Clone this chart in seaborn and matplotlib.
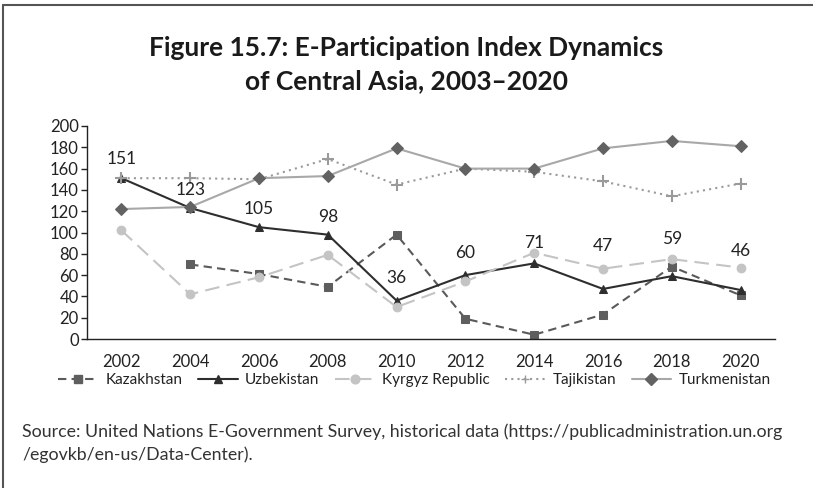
import pandas as pd
import seaborn as sns
import matplotlib.pyplot as plt
from matplotlib.lines import Line2D

# E-Participation rank
years = [2002, 2004, 2006, 2008, 2010, 2012, 2014, 2016, 2018, 2020]
kazakhstan = [None, 70, 61, 49, 98, 19, 4, 23, 68, 41]
uzbekistan = [151, 123, 105, 98, 36, 60, 71, 47, 59, 46]
kyrgyz = [102, 42, 58, 79, 30, 54, 81, 66, 75, 67]
tajikistan = [151, 151, 150, 169, 145, 160, 157, 148, 134, 146]
turkmenistan = [122, 124, 151, 153, 179, 160, 160, 179, 186, 181]

countries = ["Kazakhstan", "Uzbekistan", "Kyrgyz Republic", "Tajikistan", "Turkmenistan"]
series = [kazakhstan, uzbekistan, kyrgyz, tajikistan, turkmenistan]

# build long-form table, skip missing years
rows = []
for name, vals in zip(countries, series):
    for yr, v in zip(years, vals):
        if v is not None:
            rows.append({"year": yr, "rank": v, "country": name})
df = pd.DataFrame(rows)

sns.set_theme(style="white")
plt.rcParams["font.family"] = ["Lato", "DejaVu Sans"]

line_colors = {"Kazakhstan": "#5a5a5a", "Uzbekistan": "#2e2e2e", "Kyrgyz Republic": "#c4c4c4",
               "Tajikistan": "#9a9a9a", "Turkmenistan": "#a8a8a8"}
marker_colors = {"Kazakhstan": "#5e5e5e", "Uzbekistan": "#2e2e2e", "Kyrgyz Republic": "#c4c4c4",
                 "Tajikistan": "#9a9a9a", "Turkmenistan": "#626262"}
markers = {"Kazakhstan": "s", "Uzbekistan": "^", "Kyrgyz Republic": "o",
           "Tajikistan": "P", "Turkmenistan": "D"}
dashes = {"Kazakhstan": (4, 2.5), "Uzbekistan": "", "Kyrgyz Republic": (7, 3.5),
          "Tajikistan": (1, 2), "Turkmenistan": ""}

fig = plt.figure(figsize=(8.13, 4.88), dpi=100)
ax = fig.add_axes([87 / 813, 149 / 488, 688 / 813, 213 / 488])

sns.lineplot(data=df, x="year", y="rank", hue="country", style="country",
             hue_order=countries, style_order=countries,
             palette=line_colors, markers=markers, dashes=dashes,
             errorbar=None, linewidth=1.5, markersize=6.3, ax=ax, legend=False)

# marker tweaks per country
for line, name in zip(ax.lines, countries):
    line.set_markerfacecolor(marker_colors[name])
    line.set_markeredgecolor(marker_colors[name])
    if name == "Tajikistan":
        line.set_marker("+")
        line.set_markersize(8.5)
        line.set_markeredgewidth(1.5)

# labels on Uzbekistan
offsets = [14, 13, 13, 13, 16, 16, 15, 31, 27, 28]
for yr, v, off in zip(years, uzbekistan, offsets):
    ax.annotate(str(v), (yr, v), xytext=(0, off), textcoords="offset points",
                ha="center", va="center", fontsize=12.5, color="#222222")

ax.set_xlim(2001, 2021)
ax.set_ylim(0, 200)
ax.set_xticks(years)
ax.set_yticks(range(0, 201, 20))
ax.set_xlabel("")
ax.set_ylabel("")
sns.despine(ax=ax)
for s in ["left", "bottom"]:
    ax.spines[s].set_color("#222222")
    ax.spines[s].set_linewidth(1.0)
ax.tick_params(axis="y", left=True, length=4, width=1, color="#222222", labelsize=12,
               labelcolor="#222222", pad=2)
ax.tick_params(axis="x", bottom=False, labelsize=12, labelcolor="#222222", pad=5)

# legend
handles = []
for name in countries:
    h = Line2D([], [], color=line_colors[name], lw=1.5,
               marker="+" if name == "Tajikistan" else markers[name],
               markersize=6.3, markerfacecolor=marker_colors[name],
               markeredgecolor=marker_colors[name])
    if dashes[name]:
        h.set_dashes(dashes[name])
    handles.append(h)
fig.legend(handles, countries, loc="center", bbox_to_anchor=(0.51, 1 - 380 / 488), ncol=5,
           frameon=False, fontsize=11, handlelength=2.6, columnspacing=1.0, handletextpad=0.5,
           labelcolor="#222222")

fig.text(0.5, 1 - 48 / 488, "Figure 15.7: E-Participation Index Dynamics", ha="center", va="center",
         fontsize=19, fontweight="bold", color="#1a1a1a")
fig.text(0.5, 1 - 81 / 488, "of Central Asia, 2003\u20132020", ha="center", va="center",
         fontsize=19, fontweight="bold", color="#1a1a1a")

fig.text(22 / 813, 1 - 432 / 488,
         "Source: United Nations E-Government Survey, historical data (https://publicadministration.un.org",
         ha="left", va="center", fontsize=12.8, color="#333333")
fig.text(22 / 813, 1 - 455 / 488, "/egovkb/en-us/Data-Center).",
         ha="left", va="center", fontsize=12.8, color="#333333")

# frame around the figure (top and left edge visible)
fig.add_artist(Line2D([3 / 813, 1], [1 - 5 / 488, 1 - 5 / 488], color="#555555", lw=1.5))
fig.add_artist(Line2D([3 / 813, 3 / 813], [0, 1 - 5 / 488], color="#555555", lw=1.5))

fig.savefig("out.png", dpi=100)
